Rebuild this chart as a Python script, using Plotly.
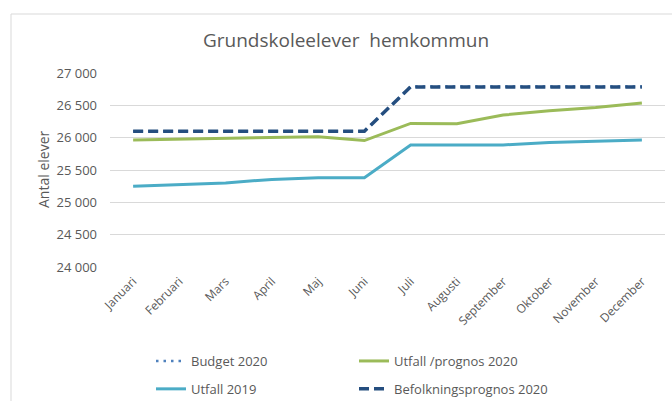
import plotly.graph_objects as go

months = ["Januari", "Februari", "Mars", "April", "Maj", "Juni", "Juli",
          "Augusti", "September", "Oktober", "November", "December"]
budget_2020 = [26100, 26100, 26100, 26100, 26100, 26100, 26790, 26790, 26790, 26790, 26790, 26790]
utfall_prognos_2020 = [25965, 25975, 25985, 26005, 26015, 25955, 26220, 26215, 26350, 26415, 26465, 26535]
utfall_2019 = [25250, 25275, 25300, 25355, 25380, 25380, 25888, 25888, 25888, 25925, 25945, 25965]
befolkning_2020 = [26100, 26100, 26100, 26100, 26100, 26100, 26785, 26785, 26785, 26785, 26785, 26785]

W, H = 672, 401
ML, MR, MT, MB = 110, 7, 73, 134
PW, PH = W - ML - MR, H - MT - MB
FONT = "Open Sans"
GRAY = "#595959"


def px(x):
    return (x - ML) / PW


def py(y):
    return 1 - (y - MT) / PH


fig = go.Figure()
fig.add_trace(go.Scatter(x=months, y=budget_2020, name="Budget 2020", mode="lines",
                         line=dict(color="#4F81BD", width=2.5, dash="2.5px,5px"),
                         legend="legend", legendgroup="a", legendrank=1))
fig.add_trace(go.Scatter(x=months, y=utfall_2019, name="Utfall 2019", mode="lines",
                         line=dict(color="#4BACC6", width=3),
                         legend="legend", legendgroup="b", legendrank=2))
fig.add_trace(go.Scatter(x=months, y=utfall_prognos_2020, name="Utfall /prognos 2020", mode="lines",
                         line=dict(color="#9BBB59", width=3),
                         legend="legend2", legendgroup="c", legendrank=1))
fig.add_trace(go.Scatter(x=months, y=befolkning_2020, name="Befolkningsprognos 2020", mode="lines",
                         line=dict(color="#254E7F", width=3.5, dash="10px,5px"),
                         legend="legend2", legendgroup="d", legendrank=2))

legend_common = dict(xref="paper", yref="paper", xanchor="left", yanchor="top",
                     orientation="v", tracegroupgap=8, bgcolor="rgba(0,0,0,0)",
                     font=dict(family=FONT, size=13, color=GRAY), borderwidth=0)

fig.update_layout(
    width=W, height=H,
    margin=dict(l=ML, r=MR, t=MT, b=MB, autoexpand=False),
    paper_bgcolor="white", plot_bgcolor="white",
    separators=", ",
    font=dict(family=FONT, size=13, color=GRAY),
    title=dict(text="Grundskoleelever  hemkommun", x=346 / W, xanchor="center",
               xref="container", yref="container", y=1 - 40 / H, yanchor="middle",
               font=dict(family=FONT, size=19, color=GRAY)),
    xaxis=dict(type="category", range=[-0.5, 11.5], showgrid=False, tickangle=-45,
               ticks="", ticklabelstandoff=4, showline=False, zeroline=False,
               automargin=False, tickfont=dict(family=FONT, size=12, color=GRAY)),
    yaxis=dict(range=[24000, 27000], dtick=500, tickformat=",d", showgrid=True,
               gridcolor="#D9D9D9", gridwidth=1, zeroline=False, showline=False,
               ticks="", ticklabelstandoff=12, automargin=False,
               tickfont=dict(family=FONT, size=13, color=GRAY)),
    legend=dict(x=px(151), y=py(346), **legend_common),
    legend2=dict(x=px(354), y=py(346), **legend_common),
    annotations=[dict(text="Antal elever", textangle=-90, xref="paper", yref="paper",
                      x=px(43), y=py(170),
                      xanchor="center", yanchor="middle", showarrow=False,
                      font=dict(family=FONT, size=14, color=GRAY))],
    shapes=[dict(type="rect", xref="paper", yref="paper",
                 x0=px(11), x1=px(700), y0=py(420), y1=py(14),
                 line=dict(color="#D9D9D9", width=1), layer="below")],
)

fig.write_html("out.html")
